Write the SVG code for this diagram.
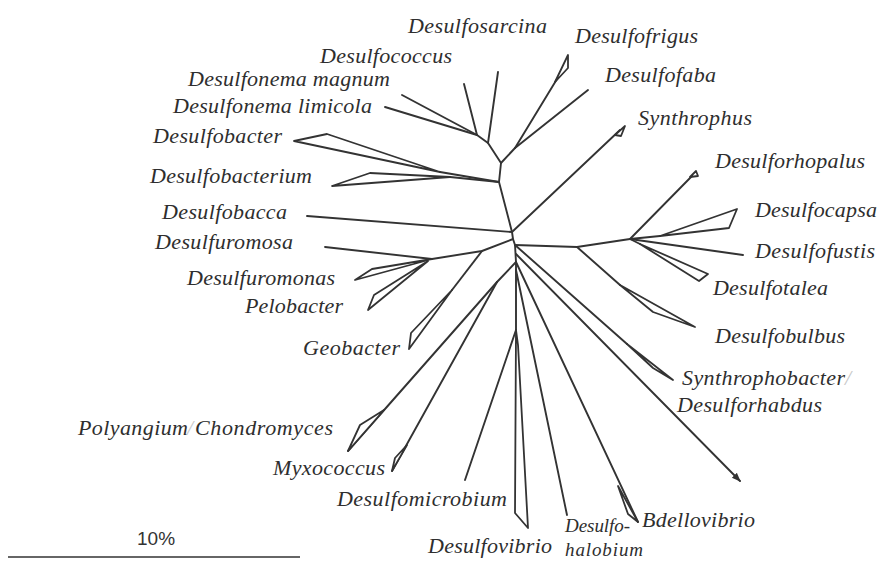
<svg xmlns="http://www.w3.org/2000/svg" width="880" height="561" viewBox="0 0 880 561">
  <defs>
    <marker id="arrow" markerWidth="10" markerHeight="10" refX="8" refY="5" orient="auto" markerUnits="userSpaceOnUse">
      <path d="M0,1.5 L9,5 L0,8.5 Z" fill="#333"/>
    </marker>
    <style>
      .br { fill: none; stroke: #333; stroke-width: 1.9; stroke-linejoin: round; stroke-linecap: round; }
      .tip { fill: #fff; stroke: #333; stroke-width: 1.8; stroke-linejoin: round; }
      .lbl { font-family: "Liberation Serif", "Times New Roman", serif; font-style: italic; font-size: 22px; fill: #2e2e2e; }
      .sm { font-size: 19px; }
      .sl { fill: #c8c8c8; }
      .scale { font-family: "Liberation Sans", Arial, sans-serif; font-size: 19px; fill: #333; }
    </style>
  </defs>

  <rect width="880" height="561" fill="#fff"/>

  <!-- tree branches -->
  <g id="connectors">
    <!-- central trunk -->
    <polyline class="br" points="477,135 488,143 501,163 499,182 512,232 513,239 515,245 516,262 516,330"/>
    <!-- upper cluster -->
    <line class="br" x1="477" y1="135" x2="402" y2="95"/>
    <line class="br" x1="477" y1="135" x2="385" y2="107"/>
    <line class="br" x1="477" y1="135" x2="464" y2="84"/>
    <line class="br" x1="488" y1="143" x2="498" y2="72"/>
    <line class="br" x1="501" y1="163" x2="515" y2="148"/>
    <line class="br" x1="515" y1="148" x2="588" y2="90"/>
    <line class="br" x1="515" y1="148" x2="557" y2="79"/>
    <line class="br" x1="499" y1="182" x2="440" y2="172"/>
    <line class="br" x1="499" y1="182" x2="450" y2="177"/>
    <!-- Desulfobacca / Synthrophus -->
    <line class="br" x1="512" y1="232" x2="307" y2="216"/>
    <line class="br" x1="512" y1="232" x2="620" y2="130"/>
    <!-- Desulfuromonadales -->
    <polyline class="br" points="513,239 482,251 432,259 325,247"/>
    <line class="br" x1="482" y1="251" x2="452" y2="290"/>
    <!-- myxobacteria -->
    <line class="br" x1="516" y1="262" x2="497" y2="282"/>
    <line class="br" x1="497" y1="282" x2="348" y2="451"/>
    <line class="br" x1="497" y1="282" x2="392" y2="471"/>
    <!-- Desulfobulbaceae -->
    <polyline class="br" points="515,245 577,247 630,239"/>
    <line class="br" x1="630" y1="239" x2="692" y2="176"/>
    <line class="br" x1="630" y1="239" x2="660" y2="236"/>
    <line class="br" x1="630" y1="239" x2="743" y2="255"/>
    <line class="br" x1="630" y1="239" x2="640" y2="244"/>
    <line class="br" x1="577" y1="247" x2="620" y2="285"/>
    <!-- lower right radiation -->
    <line class="br" x1="515" y1="245" x2="627" y2="344"/>
    <line class="br" x1="516" y1="254" x2="740" y2="481" marker-end="url(#arrow)"/>
    <line class="br" x1="516" y1="262" x2="638" y2="522"/>
    <line class="br" x1="516" y1="270" x2="567" y2="515"/>
    <line class="br" x1="516" y1="330" x2="465" y2="480"/>
  </g>

  <!-- taxa -->
  <g id="desulfosarcina"><text class="lbl" x="408" y="33" textLength="139">Desulfosarcina</text></g>
  <g id="desulfofrigus">
    <polygon class="tip" points="555,82 568,55 568,68"/>
    <text class="lbl" x="575" y="43" textLength="123">Desulfofrigus</text>
  </g>
  <g id="desulfococcus"><text class="lbl" x="320" y="63" textLength="132">Desulfococcus</text></g>
  <g id="desulfofaba"><text class="lbl" x="605" y="82" textLength="111">Desulfofaba</text></g>
  <g id="desulfonema-magnum"><text class="lbl" x="188" y="86" textLength="202">Desulfonema magnum</text></g>
  <g id="desulfonema-limicola"><text class="lbl" x="173" y="113" textLength="199">Desulfonema limicola</text></g>
  <g id="synthrophus">
    <polygon class="tip" points="615,135 625,126 621,136"/>
    <text class="lbl" x="638" y="125" textLength="114">Synthrophus</text>
  </g>
  <g id="desulfobacter">
    <polygon class="tip" points="294,141 327,134 440,172"/>
    <text class="lbl" x="153" y="143" textLength="129">Desulfobacter</text>
  </g>
  <g id="desulforhopalus">
    <polygon class="tip" points="690,177 696,171 698,176"/>
    <text class="lbl" x="715" y="168" textLength="150">Desulforhopalus</text>
  </g>
  <g id="desulfobacterium">
    <polygon class="tip" points="332,186 370,173 450,177"/>
    <text class="lbl" x="150" y="183" textLength="162">Desulfobacterium</text>
  </g>
  <g id="desulfocapsa">
    <polygon class="tip" points="660,236 737,209 729,228"/>
    <text class="lbl" x="755" y="217" textLength="122">Desulfocapsa</text>
  </g>
  <g id="desulfobacca"><text class="lbl" x="162" y="219" textLength="125">Desulfobacca</text></g>
  <g id="desulfuromosa"><text class="lbl" x="155" y="249" textLength="138">Desulfuromosa</text></g>
  <g id="desulfofustis"><text class="lbl" x="755" y="258" textLength="120">Desulfofustis</text></g>
  <g id="desulfuromonas">
    <polygon class="tip" points="432,259 372,269 355,280"/>
    <text class="lbl" x="187" y="285" textLength="148">Desulfuromonas</text>
  </g>
  <g id="desulfotalea">
    <polygon class="tip" points="640,244 708,274 699,281"/>
    <text class="lbl" x="713" y="295" textLength="115">Desulfotalea</text>
  </g>
  <g id="pelobacter">
    <polygon class="tip" points="428,261 374,295 368,310"/>
    <text class="lbl" x="245" y="313" textLength="98">Pelobacter</text>
  </g>
  <g id="desulfobulbus">
    <polygon class="tip" points="620,285 653,312 695,327"/>
    <text class="lbl" x="715" y="343" textLength="130">Desulfobulbus</text>
  </g>
  <g id="geobacter">
    <polygon class="tip" points="452,290 411,333 409,349"/>
    <text class="lbl" x="303" y="355" textLength="97">Geobacter</text>
  </g>
  <g id="synthrophobacter-desulforhabdus">
    <polygon class="tip" points="627,344 653,368 673,380"/>
    <text class="lbl" x="682" y="385" textLength="163">Synthrophobacter</text>
    <text class="lbl sl" x="845" y="385">/</text>
    <text class="lbl" x="677" y="412" textLength="145">Desulforhabdus</text>
  </g>
  <g id="polyangium-chondromyces">
    <polygon class="tip" points="384,410 360,425 348,451"/>
    <text class="lbl" x="78" y="435" textLength="110">Polyangium</text>
    <text class="lbl sl" x="187" y="435">/</text>
    <text class="lbl" x="195" y="435" textLength="138">Chondromyces</text>
  </g>
  <g id="myxococcus">
    <polygon class="tip" points="407,445 395,458 392,471"/>
    <text class="lbl" x="273" y="475" textLength="112">Myxococcus</text>
  </g>
  <g id="desulfomicrobium"><text class="lbl" x="337" y="506" textLength="170">Desulfomicrobium</text></g>
  <g id="bdellovibrio">
    <polygon class="tip" points="618,486 638,522 628,514"/>
    <text class="lbl" x="642" y="527" textLength="113">Bdellovibrio</text>
  </g>
  <g id="desulfohalobium">
    <text class="lbl sm" x="565" y="532" textLength="65">Desulfo-</text>
    <text class="lbl sm" x="565" y="556" textLength="78">halobium</text>
  </g>
  <g id="desulfovibrio">
    <polygon class="tip" points="516,330 515,513 528,528 518,345"/>
    <text class="lbl" x="428" y="553" textLength="124">Desulfovibrio</text>
  </g>

  <!-- scale bar -->
  <g id="scale-bar">
    <text class="scale" x="137" y="545">10%</text>
    <line x1="8" y1="557" x2="300" y2="557" stroke="#333" stroke-width="1.6"/>
  </g>
</svg>
